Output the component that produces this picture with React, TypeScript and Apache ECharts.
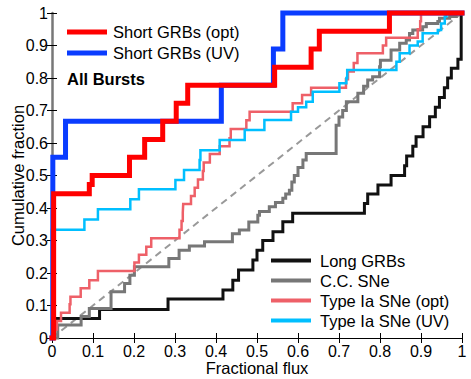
import React, { useEffect, useRef } from "react";
import * as echarts from "echarts";

type P = [number, number];

const xTicks = [0, 1];
const yTicks = [0, 1];

const shortGrbOpt: P[] = [
  [0, 0], [0.004, 0.444], [0.091, 0.472], [0.098, 0.5], [0.189, 0.556], [0.226, 0.611],
  [0.27, 0.667], [0.303, 0.722], [0.331, 0.778], [0.543, 0.833], [0.632, 0.889],
  [0.652, 0.944], [0.823, 1], [1, 1],
];

const shortGrbUv: P[] = [
  [0, 0], [0.002, 0.556], [0.033, 0.667], [0.413, 0.778], [0.54, 0.889], [0.563, 1], [1, 1],
];

const longGrb: P[] = [
  [0, 0], [0.005, 0.03], [0.006, 0.06], [0.116, 0.088], [0.283, 0.12], [0.417, 0.148],
  [0.441, 0.178], [0.455, 0.209], [0.49, 0.24], [0.5, 0.27], [0.514, 0.3], [0.539, 0.327],
  [0.563, 0.358], [0.587, 0.384], [0.762, 0.414], [0.77, 0.443], [0.795, 0.471],
  [0.827, 0.5], [0.86, 0.53], [0.865, 0.56], [0.88, 0.59], [0.888, 0.619], [0.905, 0.65],
  [0.921, 0.681], [0.935, 0.71], [0.945, 0.74], [0.957, 0.77], [0.965, 0.8], [0.974, 0.83],
  [0.99, 0.858], [0.998, 1], [1, 1],
];

const ccSne: P[] = [
  [0, 0], [0.014, 0.04], [0.071, 0.066], [0.091, 0.091], [0.144, 0.142], [0.177, 0.168],
  [0.19, 0.193], [0.201, 0.219], [0.285, 0.245], [0.31, 0.27], [0.335, 0.283],
  [0.372, 0.296], [0.44, 0.321], [0.457, 0.332], [0.48, 0.357], [0.502, 0.378],
  [0.506, 0.389], [0.53, 0.404], [0.545, 0.417], [0.563, 0.43], [0.57, 0.443],
  [0.579, 0.455], [0.585, 0.48], [0.591, 0.5], [0.6, 0.525], [0.612, 0.548],
  [0.62, 0.568], [0.693, 0.655], [0.7, 0.68], [0.709, 0.7], [0.718, 0.727],
  [0.746, 0.753], [0.76, 0.775], [0.77, 0.794], [0.782, 0.804], [0.799, 0.835],
  [0.801, 0.855], [0.827, 0.886], [0.848, 0.907], [0.864, 0.917], [0.872, 0.937],
  [0.88, 0.948], [0.904, 0.958], [0.913, 0.968], [0.941, 0.974], [0.945, 0.984],
  [0.97, 0.989], [0.986, 1], [1, 1],
];

const iaOpt: P[] = [
  [0, 0], [0.005, 0.026], [0.012, 0.052], [0.022, 0.078], [0.043, 0.104], [0.045, 0.127],
  [0.07, 0.153], [0.091, 0.178], [0.112, 0.206], [0.201, 0.232], [0.212, 0.256],
  [0.23, 0.281], [0.242, 0.307], [0.311, 0.333], [0.316, 0.36], [0.319, 0.386],
  [0.32, 0.412], [0.339, 0.437], [0.348, 0.462], [0.356, 0.488], [0.368, 0.514],
  [0.37, 0.54], [0.385, 0.566], [0.409, 0.59], [0.433, 0.615], [0.436, 0.643],
  [0.474, 0.67], [0.482, 0.696], [0.587, 0.722], [0.61, 0.748], [0.632, 0.77],
  [0.717, 0.796], [0.722, 0.82], [0.736, 0.846], [0.745, 0.876], [0.807, 0.9],
  [0.815, 0.924], [0.892, 0.95], [0.898, 0.975], [0.9, 1], [1, 1],
];

const iaUv: P[] = [
  [0, 0], [0, 0.333], [0.079, 0.365], [0.112, 0.396], [0.191, 0.427], [0.212, 0.458],
  [0.301, 0.486], [0.322, 0.517], [0.36, 0.548], [0.362, 0.578], [0.409, 0.609],
  [0.47, 0.64], [0.518, 0.671], [0.583, 0.696], [0.6, 0.71], [0.62, 0.727],
  [0.636, 0.758], [0.701, 0.784], [0.718, 0.8], [0.72, 0.825], [0.84, 0.85],
  [0.848, 0.876], [0.872, 0.9], [0.892, 0.912], [0.904, 0.938], [0.941, 0.948],
  [0.949, 0.968], [0.958, 0.989], [0.962, 1], [1, 1],
];

const uniform: P[] = [[0, 0], [1, 1]];

const names = [
  "Short GRBs (opt)",
  "Short GRBs (UV)",
  "Long GRBs",
  "C.C. SNe",
  "Type Ia SNe (opt)",
  "Type Ia SNe (UV)",
];

const FONT = "'Liberation Sans', Arial, Helvetica, sans-serif";

export default function App() {
  const ref = useRef<HTMLDivElement>(null);
  useEffect(() => {
    if (!ref.current) return;
    const chart = echarts.init(ref.current, undefined, { renderer: "svg" });
    const axisCommon = {
      type: "value" as const,
      min: xTicks[0],
      max: xTicks[1],
      interval: 0.1,
      splitLine: { show: false },
      axisLine: { show: true, lineStyle: { color: "#000", width: 1 } },
      axisTick: { show: true, inside: true, length: 5, lineStyle: { color: "#000" } },
    };
    const stepSeries = (name: string, data: P[], color: string, width: number) => ({
      name,
      type: "line" as const,
      data,
      step: "end" as const,
      showSymbol: false,
      symbol: "none",
      clip: false,
      lineStyle: { color, width, cap: "square" as const, join: "miter" as const },
      itemStyle: { color },
      emphasis: { disabled: true },
    });
    chart.setOption({
      animation: false,
      textStyle: { fontFamily: FONT },
      grid: { left: 52, right: 9, top: 13, bottom: 41, containLabel: false, outerBoundsMode: "none" },
      xAxis: [
        {
          ...axisCommon,
          position: "bottom",
          name: "Fractional flux",
          nameLocation: "middle",
          nameGap: 21,
          nameMoveOverlap: false,
          nameTextStyle: { fontSize: 16.5, color: "#000", fontFamily: FONT },
          axisLabel: { fontSize: 16, color: "#000", margin: 5, fontFamily: FONT },
        },
        { ...axisCommon, position: "top", axisLabel: { show: false } },
      ],
      yAxis: [
        {
          ...axisCommon,
          min: yTicks[0],
          max: yTicks[1],
          position: "left",
          name: "Cumulative fraction",
          nameLocation: "middle",
          nameGap: 26,
          nameMoveOverlap: false,
          nameTextStyle: { fontSize: 16.5, color: "#000", fontFamily: FONT },
          axisLabel: { fontSize: 16, color: "#000", margin: 4, fontFamily: FONT },
        },
        {
          ...axisCommon,
          min: yTicks[0],
          max: yTicks[1],
          position: "right",
          axisLabel: { show: false },
          axisLine: { show: true, lineStyle: { color: "#777", width: 2.5 } },
        },
      ],
      legend: [
        {
          data: [names[0], names[1]],
          orient: "vertical",
          left: 67,
          top: 23,
          padding: 0,
          itemGap: 3,
          itemWidth: 40,
          itemHeight: 5,
          icon: "rect",
          selectedMode: false,
          textStyle: { fontSize: 16.5, color: "#000", lineHeight: 18, padding: [0, 0, 0, 1], fontFamily: FONT },
        },
        {
          data: [names[2], names[3], names[4], names[5]],
          orient: "vertical",
          left: 271,
          top: 251.5,
          padding: 0,
          itemGap: 2,
          itemWidth: 40,
          itemHeight: 4,
          icon: "rect",
          selectedMode: false,
          textStyle: { fontSize: 16.5, color: "#000", lineHeight: 18, padding: [0, 0, 0, 4], fontFamily: FONT },
        },
      ],
      graphic: [
        {
          type: "text",
          left: 67,
          top: 70,
          style: { text: "All Bursts", fontSize: 16.5, fontWeight: "bold", fill: "#000", fontFamily: FONT },
        },
      ],
      series: [
        {
          type: "line",
          data: uniform,
          showSymbol: false,
          symbol: "none",
          lineStyle: { color: "#999", width: 2, type: [7, 5] },
          emphasis: { disabled: true },
          silent: true,
        },
        stepSeries(names[2], longGrb, "#111111", 3),
        stepSeries(names[3], ccSne, "#777777", 3),
        stepSeries(names[4], iaOpt, "#EE6068", 2.5),
        stepSeries(names[5], iaUv, "#00BFFF", 2.5),
        stepSeries(names[1], shortGrbUv, "#0A3CFF", 5),
        stepSeries(names[0], shortGrbOpt, "#FF0000", 5),
      ],
    });
    return () => chart.dispose();
  }, []);
  return (
    <div
      ref={ref}
      style={{ position: "absolute", left: 0, top: 0, width: 471, height: 379 }}
    />
  );
}
